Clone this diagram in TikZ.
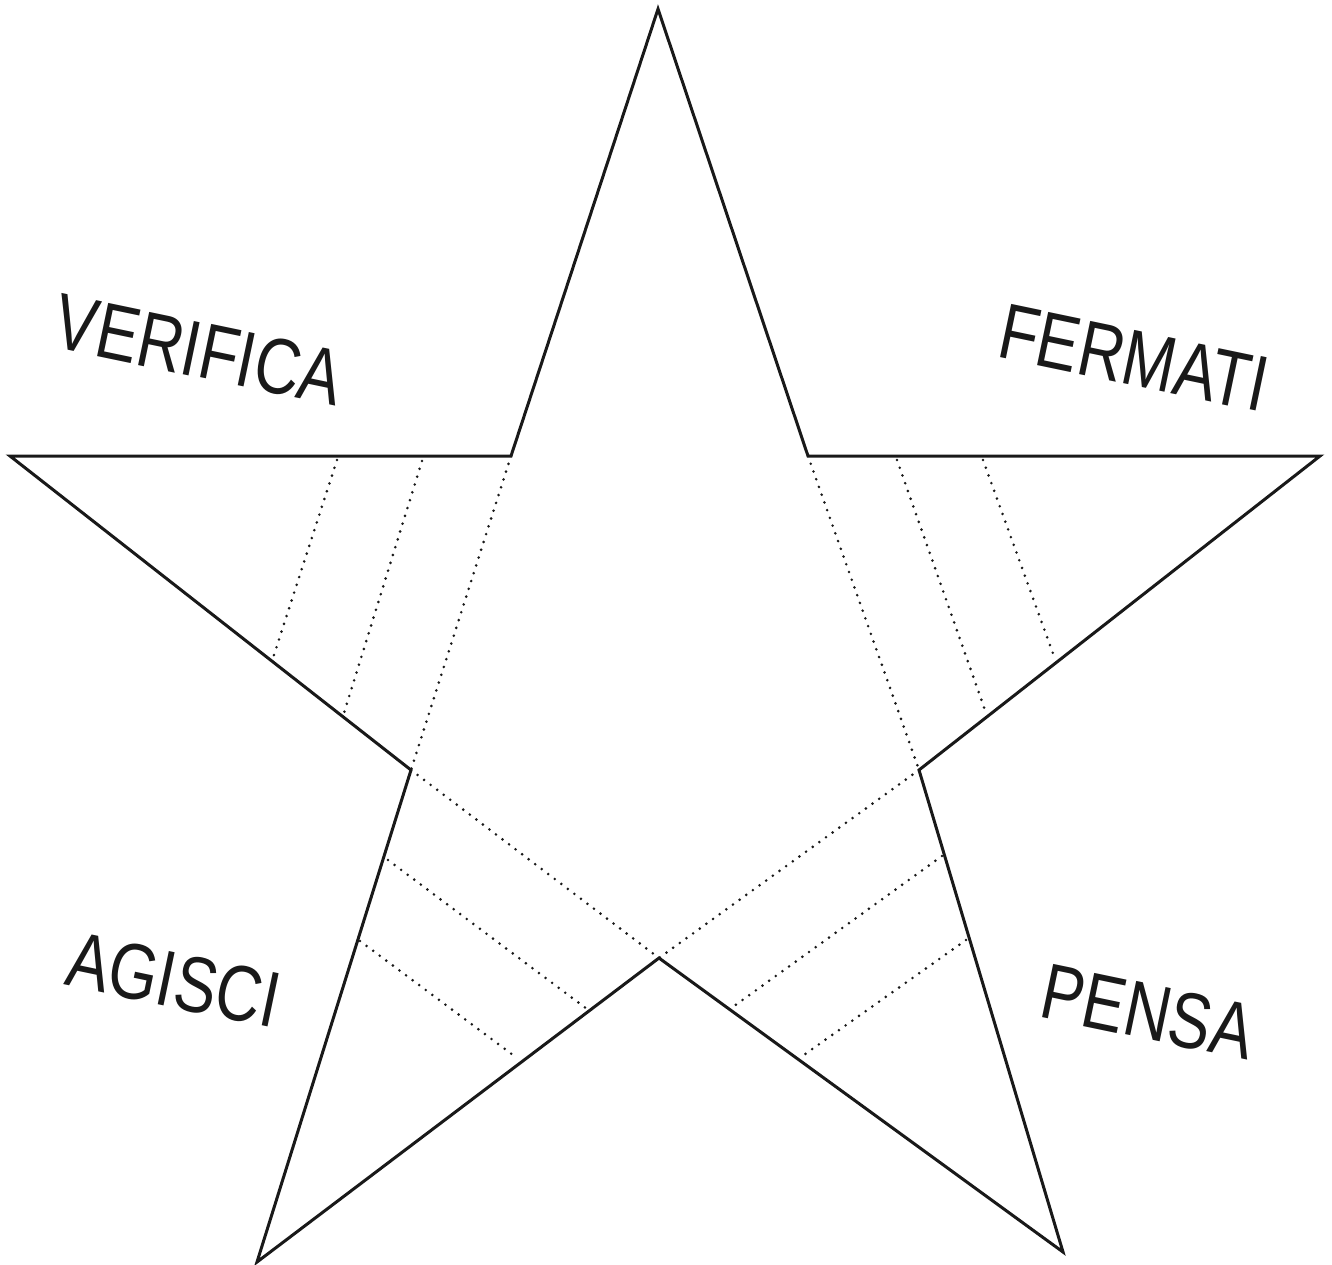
\documentclass[tikz,border=0pt]{standalone}
\usepackage{fontspec}
\newfontfamily\labfont[FakeStretch=0.8]{Liberation Sans}
\begin{document}
\begin{tikzpicture}[x=1pt,y=-1pt,
  solidline/.style={line width=3pt,line join=miter,black!90},
  dotline/.style={line width=2.9pt,line cap=round,dash pattern=on 0pt off 8.2pt,black!90},
  lab/.style={font=\labfont\fontsize{79}{79}\selectfont,inner sep=0pt,rotate=-11.8,black!90}]
\useasboundingbox (0,0) rectangle (1332,1264);
% outer tips
\coordinate (T) at (658,9);
\coordinate (R) at (1320,456);
\coordinate (BR) at (1063,1252);
\coordinate (BL) at (257,1262);
\coordinate (L) at (10,456);
% inner vertices
\coordinate (A) at (511,456);
\coordinate (B) at (808,456);
\coordinate (C) at (919,770);
\coordinate (D) at (659,958);
\coordinate (E) at (411,770);
% star outline
\draw[solidline] (T) -- (B) -- (R) -- (C) -- (BR) -- (D) -- (BL) -- (E) -- (L) -- (A) -- cycle;
% inner pentagon (dotted edges)
\draw[dotline] (A) -- (E);
\draw[dotline] (B) -- (C);
\draw[dotline] (E) -- (D);
\draw[dotline] (C) -- (D);
% left arm
\coordinate (l1a) at (337,460); \coordinate (l1b) at (273,658);
\coordinate (l2a) at (422,461); \coordinate (l2b) at (344,713);
\draw[dotline] (l1a) -- (l1b);
\draw[dotline] (l2a) -- (l2b);
% right arm
\coordinate (r1a) at (897,460); \coordinate (r1b) at (986,713);
\coordinate (r2a) at (983,460); \coordinate (r2b) at (1055,659);
\draw[dotline] (r1a) -- (r1b);
\draw[dotline] (r2a) -- (r2b);
% bottom-left arm
\coordinate (b1a) at (388,860); \coordinate (b1b) at (587,1009);
\coordinate (b2a) at (360,941); \coordinate (b2b) at (517,1058);
\draw[dotline] (b1a) -- (b1b);
\draw[dotline] (b2a) -- (b2b);
% bottom-right arm
\coordinate (c1a) at (942,856); \coordinate (c1b) at (730,1009);
\coordinate (c2a) at (966,940); \coordinate (c2b) at (801,1057);
\draw[dotline] (c1a) -- (c1b);
\draw[dotline] (c2a) -- (c2b);
% labels
\node[lab] (verifica) at (199,350) {VERIFICA};
\node[lab] (fermati) at (1134,358) {FERMATI};
\node[lab] (agisci) at (174,980) {AGISCI};
\node[lab] (pensa) at (1148,1012) {PENSA};
\end{tikzpicture}
\end{document}
